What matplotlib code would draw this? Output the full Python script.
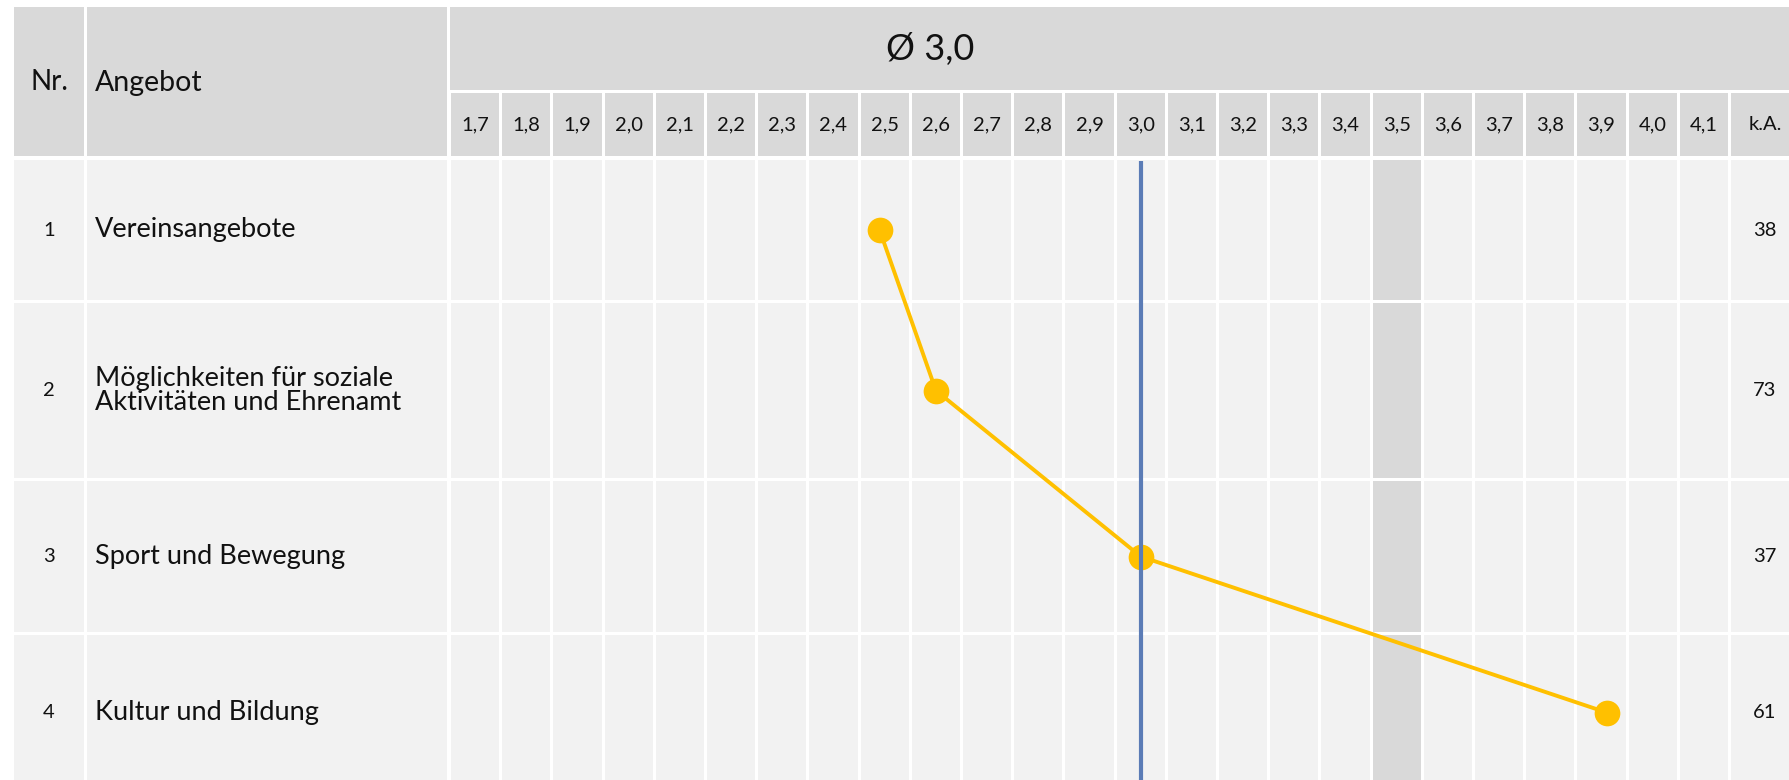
import matplotlib
matplotlib.use("Agg")
import matplotlib.pyplot as plt
from matplotlib.patches import Rectangle
import numpy as np

# ---------------- data ----------------
nr = [1, 2, 3, 4]
angebote = ["Vereinsangebote",
            "Möglichkeiten für soziale\nAktivitäten und Ehrenamt",
            "Sport und Bewegung",
            "Kultur und Bildung"]
werte = [2.49, 2.60, 3.00, 3.91]
keine_angabe = [38, 73, 37, 61]
scale = [round(1.7 + 0.1 * i, 1) for i in range(25)]   # 1,7 ... 4,1
durchschnitt = 3.0
markiert = 3.5

# ---------------- layout (pixels) ----------------
W, H = 1790, 780
DPI = 100
HEAD_BG = "#D9D9D9"
BODY_BG = "#F2F2F2"
YELLOW = "#FFC000"
BLUE = "#5B7CB6"
FONT = ["Lato", "DejaVu Sans"]
TXT = "#111111"

x_nr0, x_nr1 = 14, 84
x_an0, x_an1 = 87, 447
val_left = 449.5
colw = 51.2
gap = 3.0
ka0, ka1 = 1731, 1800
y_head0, y_band1, y_sub0, y_sub1 = 7, 90, 93, 156
row_top = [160, 303, 481, 635]
row_bot = [300, 478, 632, 790]
row_mid = [(a + b) / 2 for a, b in zip(row_top, row_bot)]
title_x = 930

fig = plt.figure(figsize=(W / DPI, H / DPI), dpi=DPI)
fig.patch.set_facecolor("white")

# background axes in pixel units
bg = fig.add_axes([0, 0, 1, 1])
bg.set_xlim(0, W)
bg.set_ylim(H, 0)
bg.axis("off")

def cell(ax, x0, x1, y0, y1, color, z=1):
    ax.add_patch(Rectangle((x0, y0), x1 - x0, y1 - y0, facecolor=color,
                           edgecolor="none", zorder=z))

# header cells
cell(bg, x_nr0, x_nr1, y_head0, y_sub1, HEAD_BG)
cell(bg, x_an0, x_an1, y_head0, y_sub1, HEAD_BG)
cell(bg, val_left + 0.5, W + 10, y_head0, y_band1, HEAD_BG)
cell(bg, ka0, ka1, y_sub0, y_sub1, HEAD_BG)

bg.text((x_nr0 + x_nr1) / 2, (y_head0 + y_sub1) / 2 + 1, "Nr.", ha="center",
        va="center", fontsize=20, family=FONT, color=TXT)
bg.text(x_an0 + 8, (y_head0 + y_sub1) / 2 + 1, "Angebot", ha="left",
        va="center", fontsize=20.5, family=FONT, color=TXT)
ka_center = 1765
bg.text(ka_center, (y_sub0 + y_sub1) / 2, "k.A.", ha="center", va="center",
        fontsize=14.5, family=FONT, color=TXT)
bg.text(title_x, (y_head0 + y_band1) / 2 + 1,
        "Ø " + f"{durchschnitt:.1f}".replace(".", ","), ha="center",
        va="center", fontsize=26, family=FONT, color=TXT, zorder=3)

# body cells: Nr, Angebot, k.A.
for i in range(len(nr)):
    t, b = row_top[i], row_bot[i]
    cell(bg, x_nr0, x_nr1, t, b, BODY_BG)
    cell(bg, x_an0, x_an1, t, b, BODY_BG)
    cell(bg, ka0, ka1, t, b, BODY_BG)
    bg.text((x_nr0 + x_nr1) / 2, row_mid[i], str(nr[i]), ha="center",
            va="center", fontsize=14.5, family=FONT, color=TXT)
    bg.text(x_an0 + 8, row_mid[i], angebote[i], ha="left", va="center",
            fontsize=19.5, family=FONT, color=TXT, linespacing=0.92)
    bg.text(ka_center, row_mid[i], str(keine_angabe[i]), ha="center",
            va="center", fontsize=14.5, family=FONT, color=TXT)

# value axes: x in scale units, y in pixels
n = len(scale)
ax = fig.add_axes([val_left / W, 0, n * colw / W, 1])
ax.set_xlim(scale[0] - 0.05, scale[-1] + 0.05)
ax.set_ylim(H, 0)
ax.axis("off")
ax.patch.set_alpha(0)

g = gap / colw * 0.1
for v in scale:
    x0, x1 = v - 0.05 + g / 2, v + 0.05 - g / 2
    cell(ax, x0, x1, y_sub0, y_sub1, HEAD_BG)
    ax.text(v, (y_sub0 + y_sub1) / 2, f"{v:.1f}".replace(".", ","),
            ha="center", va="center", fontsize=14.5, family=FONT, color=TXT)
    for i in range(len(nr)):
        col = HEAD_BG if abs(v - markiert) < 1e-9 else BODY_BG
        cell(ax, x0, x1, row_top[i], row_bot[i], col)

ax.plot(werte, row_mid, color=YELLOW, lw=2.8, marker="o", ms=18.5,
        markeredgewidth=0, zorder=5, solid_capstyle="round")
ax.vlines(durchschnitt, row_top[0] + 1, H, color=BLUE, lw=3, zorder=6)

fig.savefig("out.png", dpi=DPI, facecolor="white")
